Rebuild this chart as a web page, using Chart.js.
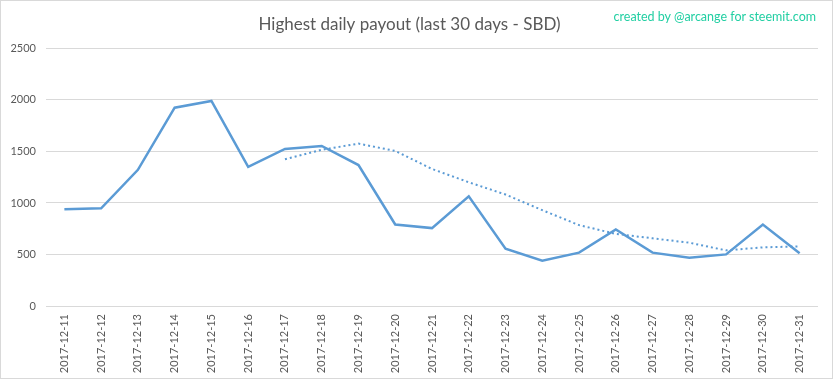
<!DOCTYPE html>
<html>
<head>
<meta charset="utf-8">
<script src="https://cdn.jsdelivr.net/npm/chart.js@4.4.1/dist/chart.umd.min.js"></script>
<style>
  html, body { margin: 0; padding: 0; background: #fff; }
  #wrap { position: relative; width: 833px; height: 379px; box-sizing: border-box; border: 1px solid #d9d9d9; background: #fff; }
  #c { position: absolute; left: 0; top: 0; }
  #wm { position: absolute; right: 16px; top: 8px; font-family: Lato, "Open Sans", sans-serif; font-size: 12.5px; color: #22cfa3; }
</style>
</head>
<body>
<div id="wrap">
  <canvas id="c" width="831" height="377"></canvas>
  <div id="wm">created by @arcange for steemit.com</div>
</div>
<script>
const categories = ["2017-12-11","2017-12-12","2017-12-13","2017-12-14","2017-12-15","2017-12-16","2017-12-17","2017-12-18","2017-12-19","2017-12-20","2017-12-21","2017-12-22","2017-12-23","2017-12-24","2017-12-25","2017-12-26","2017-12-27","2017-12-28","2017-12-29","2017-12-30","2017-12-31"];
const payout = [938, 948, 1322, 1925, 1990, 1351, 1524, 1553, 1368, 791, 756, 1065, 557, 440, 518, 743, 518, 469, 501, 791, 511];
const movingAvg = [null, null, null, null, null, null, 1425, 1516, 1576, 1505, 1330, 1201, 1082, 930, 785, 700, 657, 614, 540, 569, 579];
const yTicks = [0, 500, 1000, 1500, 2000, 2500];
const titleText = "Highest daily payout (last 30 days - SBD)";

new Chart(document.getElementById('c'), {
  type: 'line',
  data: {
    labels: categories,
    datasets: [
      { data: payout, borderColor: '#5b9bd5', borderWidth: 2.5, pointRadius: 0, tension: 0, fill: false },
      { data: movingAvg, borderColor: '#5b9bd5', borderWidth: 2, borderDash: [2, 3], pointRadius: 0, tension: 0, fill: false, spanGaps: false }
    ]
  },
  options: {
    responsive: false,
    animation: false,
    layout: { padding: { top: 0, right: 14, left: 0, bottom: 0 } },
    plugins: {
      legend: { display: false },
      tooltip: { enabled: false },
      title: { display: true, text: titleText, color: '#595959', font: { family: 'Lato', size: 17, weight: 'normal' }, padding: { top: 13, bottom: 14 } }
    },
    scales: {
      x: {
        offset: true,
        afterFit: (s) => { s.height = 72; },
        grid: { display: false, drawTicks: false },
        border: { display: false },
        ticks: { color: '#595959', font: { family: 'Lato', size: 11 }, minRotation: 90, maxRotation: 90, padding: 8, autoSkip: false }
      },
      y: {
        min: 0, max: 2500,
        afterBuildTicks: (s) => { s.ticks = yTicks.map(v => ({ value: v })); },
        afterFit: (s) => { s.width = 45; },
        grid: { color: '#d9d9d9', drawTicks: false, lineWidth: 1 },
        border: { display: false },
        ticks: { color: '#595959', font: { family: 'Lato', size: 11 }, padding: 10, callback: (v) => String(v) }
      }
    }
  }
});
</script>
</body>
</html>
